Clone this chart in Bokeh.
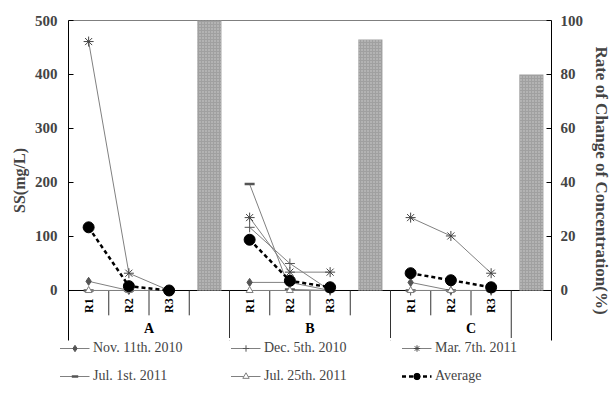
import math
from bokeh.plotting import figure
from bokeh.models import Range1d, LinearAxis, FixedTicker, Legend, LegendItem
from bokeh.core.properties import value
from bokeh.embed import file_html
from bokeh.resources import INLINE

nan = float("nan")

# ---------------- data ----------------
groups = ["A", "B", "C"]
sites = ["R1", "R2", "R3"]
# SS (mg/L) for A-R1, A-R2, A-R3, B-R1, B-R2, B-R3, C-R1, C-R2, C-R3
nov_11_2010 = [17, 0, 0, 15, 15, 0, 15, 0, 0]
dec_5_2010 = [nan, nan, nan, 117, 50, 0, 0, 0, 0]
mar_7_2011 = [461, 32, 0, 135, 34, 34, 135, 101, 32]
jul_1_2011 = [0, 0, 0, 197, 2, 0, 0, 0, 0]
jul_25_2011 = [0, 0, 0, 0, 0, 0, 0, 0, 0]
average = [117, 8, 0, 94, 18, 6, 32, 19, 6]
# Rate of change of concentration (%) per group
rate_change = [100, 93, 80]
ss_ticks = [0, 100, 200, 300, 400, 500]
rate_ticks = [0, 20, 40, 60, 80, 100]

series_names = ["Nov. 11th. 2010", "Dec. 5th. 2010", "Mar. 7th. 2011",
                "Jul. 1st. 2011", "Jul. 25th. 2011", "Average"]

# ---------------- helpers ----------------
SLOTS = 4  # R1, R2, R3, bar
SERIF = "Liberation Serif"


def site_x(g, s):
    return g * SLOTS + s + 0.5


def with_breaks(vals):
    xs, ys = [], []
    for g in range(len(groups)):
        for s in range(len(sites)):
            xs.append(site_x(g, s))
            ys.append(vals[g * len(sites) + s])
        xs.append(nan)
        ys.append(nan)
    return xs, ys


YMIN = -92.6
YMAX = ss_ticks[-1]
NX = len(groups) * SLOTS
p = figure(frame_width=483, frame_height=320, output_backend="svg", toolbar_location=None,
           x_range=Range1d(0, NX), y_range=Range1d(YMIN, YMAX),
           x_axis_location=None, min_border_left=68, min_border_right=61,
           min_border_top=20, min_border_bottom=0)
p.outline_line_color = None
p.grid.visible = False
p.extra_y_ranges = {"rate": Range1d(YMIN / 5.0, rate_ticks[-1])}

# left axis
ya = p.yaxis[0]
ya.ticker = FixedTicker(ticks=ss_ticks)
ya.axis_label = "SS(mg/L)"
ya.axis_label_text_font = SERIF
ya.axis_label_text_font_style = "bold"
ya.axis_label_text_font_size = "16px"
ya.axis_label_standoff = 4
ya.major_label_text_font = SERIF
ya.major_label_text_font_style = "bold"
ya.major_label_text_font_size = "15px"
ya.major_label_standoff = 11
ya.major_tick_in = 5
ya.major_tick_out = 0
ya.minor_tick_line_color = None
ya.axis_line_color = "black"

ra = LinearAxis(y_range_name="rate", ticker=FixedTicker(ticks=rate_ticks),
                axis_label="Rate of Change of Concentration(%)")
ra.axis_label_text_font = SERIF
ra.axis_label_text_font_style = "bold"
ra.axis_label_text_font_size = "17px"
ra.axis_label_standoff = 6
ra.major_label_text_font = SERIF
ra.major_label_text_font_style = "bold"
ra.major_label_text_font_size = "15px"
ra.major_label_standoff = 9
ra.major_tick_in = 5
ra.major_tick_out = 0
ra.minor_tick_line_color = None
ra.axis_line_color = "black"
p.add_layout(ra, "right")

# frame top line and category axis line (as glyphs)
p.segment(x0=[0, 0], y0=[YMAX, 0], x1=[NX, NX], y1=[YMAX, 0],
          line_color="black", line_width=1)

# category separators (group borders and the C R3/bar border are long)
short_x, long_x = [], []
for g in range(len(groups)):
    for k in range(1, SLOTS):
        b = g * SLOTS + k
        if g == len(groups) - 1 and k == SLOTS - 1:
            long_x.append(b)
        else:
            short_x.append(b)
    if g > 0:
        long_x.append(g * SLOTS)
p.segment(x0=short_x, y0=[0] * len(short_x), x1=short_x, y1=[-46] * len(short_x),
          line_color="#333333", line_width=1)
p.segment(x0=long_x, y0=[0] * len(long_x), x1=long_x, y1=[YMIN] * len(long_x),
          line_color="#333333", line_width=1)

# category labels
lab_x, lab_t = [], []
for g in range(len(groups)):
    for s, name in enumerate(sites):
        lab_x.append(site_x(g, s))
        lab_t.append(name)
p.text(x=lab_x, y=[-28] * len(lab_x), text=lab_t, angle=math.pi / 2,
       text_font=value(SERIF), text_font_style="bold", text_font_size="12px",
       text_align="center", text_baseline="middle", text_color="black")
p.text(x=[g * SLOTS + 2 for g in range(len(groups))], y=[-70] * len(groups), text=groups,
       text_font=value(SERIF), text_font_style="bold", text_font_size="14px",
       text_align="center", text_baseline="middle", text_color="black")

# bars
bar_x = [g * SLOTS + 3.5 for g in range(len(groups))]
p.vbar(x=bar_x, top=rate_change, bottom=0, width=0.6, y_range_name="rate",
       fill_color="#a0a0a0", line_color=None,
       hatch_pattern=".", hatch_color="#cfcfcf", hatch_scale=3, hatch_weight=1)

# series
LC = "#808080"
styles = [
    dict(marker="diamond", size=8, fill_color="#555555", line_color="#555555"),
    dict(marker="cross", size=10, fill_color=None, line_color="#555555", line_width=1),
    dict(marker="asterisk", size=10, fill_color=None, line_color="#444444", line_width=1),
    dict(marker="dash", size=10, fill_color=None, line_color="#555555", line_width=2.5),
    dict(marker="triangle", size=7, fill_color="white", line_color="#808080", line_width=1),
]
avg_line = dict(line_color="black", line_width=2.5, line_dash="4 3")
avg_marker = dict(marker="circle", size=11, fill_color="black", line_color="black")

data_series = [nov_11_2010, dec_5_2010, mar_7_2011, jul_1_2011, jul_25_2011]
items = []
for name, vals, st in zip(series_names[:5], data_series, styles):
    xs, ys = with_breaks(vals)
    r1 = p.line(xs, ys, line_color=LC, line_width=1)
    mx = [x for x, y in zip(xs, ys) if not math.isnan(y)]
    my = [y for y in ys if not math.isnan(y)]
    r2 = p.scatter(mx, my, **st)
    items.append(LegendItem(label=name, renderers=[r1, r2]))

xs, ys = with_breaks(average)
r1 = p.line(xs, ys, **avg_line)
mx = [x for x, y in zip(xs, ys) if not math.isnan(y)]
my = [y for y in ys if not math.isnan(y)]
r2 = p.scatter(mx, my, **avg_marker)
items.append(LegendItem(label=series_names[5], renderers=[r1, r2]))

# white strip along the frame's bottom edge (the reference has no line there)
p.quad(left=[0], right=[NX], bottom=[YMIN], top=[YMIN + 4.5],
       fill_color="white", line_color=None)

# legend: 3 columns x 2 rows below the plot
leg = Legend(items=items, location="top_center", orientation="horizontal", ncols=3,
             border_line_color=None, background_fill_alpha=0, padding=13, margin=0,
             spacing=12, glyph_width=30, glyph_height=16, label_height=16,
             label_width=125, label_standoff=4,
             label_text_font=SERIF, label_text_font_size="14px",
             label_text_baseline="middle")
p.add_layout(leg, "below")

open("out.html", "w").write(file_html(p, INLINE))
